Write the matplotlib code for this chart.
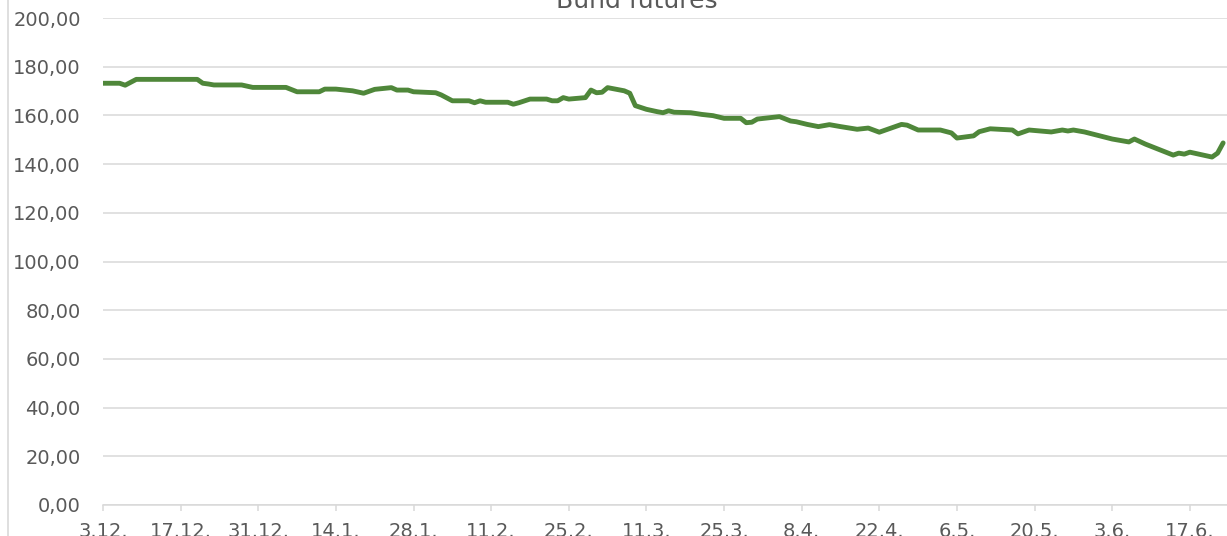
import numpy as np
import pandas as pd
import matplotlib
matplotlib.use("Agg")
import matplotlib.pyplot as plt
from matplotlib.lines import Line2D

# --- data ---
start_date = "2018-12-03"
day_offsets = [0, 3, 4, 6, 17, 18, 19, 20, 25, 27, 33, 35, 39, 40, 42, 45, 47, 49,
               52, 53, 55, 56, 60, 61, 63, 66, 67, 68, 69, 73, 74, 75, 77, 80, 81,
               82, 83, 84, 87, 88, 89, 90, 91, 94, 95, 96, 98, 100, 101, 102, 103,
               106, 108, 110, 112, 115, 116, 117, 118, 122, 124, 125, 127, 129, 131,
               133, 136, 138, 140, 142, 144, 145, 147, 151, 153, 154, 157, 158, 160,
               164, 165, 167, 171, 173, 174, 175, 177, 182, 185, 186, 188, 193, 194,
               195, 196, 200, 201, 202]
prices = [173.2, 173.2, 172.4, 174.8, 174.8, 173.2, 172.9, 172.5, 172.5, 171.5,
          171.5, 169.7, 169.7, 170.8, 170.8, 170.1, 169.1, 170.7, 171.4, 170.4,
          170.4, 169.7, 169.3, 168.4, 166.0, 166.0, 165.2, 166.0, 165.4, 165.4,
          164.6, 165.2, 166.7, 166.7, 166.0, 166.0, 167.3, 166.7, 167.3, 170.4,
          169.3, 169.5, 171.4, 170.1, 169.1, 164.0, 162.5, 161.5, 161.1, 161.9,
          161.3, 161.1, 160.4, 159.9, 158.8, 158.8, 157.0, 157.2, 158.5, 159.5,
          157.7, 157.4, 156.3, 155.4, 156.2, 155.4, 154.3, 154.8, 153.1, 154.7,
          156.3, 156.0, 154.0, 154.0, 152.8, 150.7, 151.6, 153.3, 154.5, 154.0,
          152.4, 154.0, 153.2, 154.0, 153.6, 154.0, 153.2, 150.3, 149.1, 150.3,
          148.2, 143.7, 144.5, 144.1, 144.9, 142.9, 144.5, 148.7]
tick_offsets = [0, 14, 28, 42, 56, 70, 84, 98, 112, 126, 140, 154, 168, 182, 196]
y_ticks = [0, 20, 40, 60, 80, 100, 120, 140, 160, 180, 200]
title = "Bund futures"

dates = pd.to_datetime(start_date) + pd.to_timedelta(day_offsets, unit="D")
tick_dates = pd.to_datetime(start_date) + pd.to_timedelta(tick_offsets, unit="D")

text_col = "#595959"
grid_col = "#d9d9d9"
line_col = "#4f873a"

fig = plt.figure(figsize=(12.27, 5.36), dpi=100)
fig.patch.set_facecolor("white")
ax = fig.add_axes([103 / 1227, 31 / 536, 1 - 103 / 1227, 487 / 536])

ax.plot(dates, prices, color=line_col, lw=3.5, solid_joinstyle="round",
        solid_capstyle="round", zorder=3)

ax.set_ylim(0, 200)
ax.set_xlim(pd.to_datetime(start_date), pd.to_datetime(start_date) + pd.Timedelta(days=202.7))
ax.set_yticks(y_ticks)
ax.set_yticklabels([f"{v:.2f}".replace(".", ",") for v in y_ticks])
ax.set_xticks(tick_dates)
ax.set_xticklabels([f"{d.day}.{d.month}." for d in tick_dates])

ax.grid(axis="y", color=grid_col, lw=1.1)
ax.set_axisbelow(True)
for s in ["top", "right", "left"]:
    ax.spines[s].set_visible(False)
ax.spines["bottom"].set_color(grid_col)
ax.spines["bottom"].set_linewidth(1.1)
ax.tick_params(axis="y", length=0, pad=16, labelsize=14, labelcolor=text_col)
ax.tick_params(axis="x", length=4, width=1.1, color=grid_col, pad=8,
               labelsize=14, labelcolor=text_col)

# chart area border on the left
fig.add_artist(Line2D([8 / 1227, 8 / 1227], [0, 1], color=grid_col, lw=1.2))

# title sits partly above the visible area, as in the original crop
fig.text(637 / 1227, 1 - 8 / 536, title, ha="center", va="baseline",
         fontsize=18, color=text_col)

fig.savefig("out.png", dpi=100)
